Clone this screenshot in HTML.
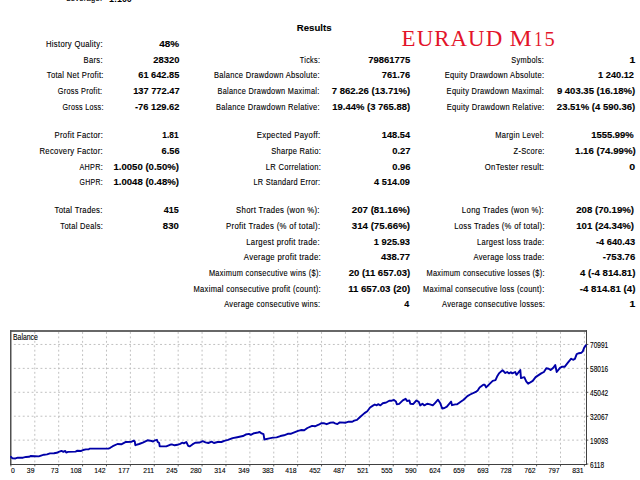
<!DOCTYPE html>
<html><head><meta charset="utf-8"><style>
html,body{margin:0;padding:0;background:#fff;width:640px;height:480px;overflow:hidden}
body{position:relative;font-family:"Liberation Sans",sans-serif}
.t{position:absolute;white-space:nowrap;line-height:12px;transform-origin:100% 50%}
.l{-webkit-text-stroke:0.12px currentColor}
.lb{letter-spacing:0.35px}
.vb{-webkit-text-stroke:0.12px currentColor}
</style></head><body>
<svg width="640" height="480" style="position:absolute;left:0;top:0"><path d="M34.80 332.00V464.40 M58.69 332.00V464.40 M82.59 332.00V464.40 M106.48 332.00V464.40 M130.38 332.00V464.40 M154.28 332.00V464.40 M178.17 332.00V464.40 M202.07 332.00V464.40 M225.96 332.00V464.40 M249.86 332.00V464.40 M273.76 332.00V464.40 M297.65 332.00V464.40 M321.55 332.00V464.40 M345.44 332.00V464.40 M369.34 332.00V464.40 M393.24 332.00V464.40 M417.13 332.00V464.40 M441.03 332.00V464.40 M464.92 332.00V464.40 M488.82 332.00V464.40 M512.72 332.00V464.40 M536.61 332.00V464.40 M560.51 332.00V464.40 M584.40 332.00V464.40" stroke="#c0c0c0" stroke-width="1" stroke-dasharray="1.9 2.53" fill="none"/><path d="M11.50 344.45H586.50 M11.50 368.37H586.50 M11.50 392.29H586.50 M11.50 416.21H586.50 M11.50 440.13H586.50" stroke="#c0c0c0" stroke-width="1" stroke-dasharray="1.9 2.53" stroke-dashoffset="-2.4" fill="none"/><path d="M10.90 464.40V466.40 M34.80 464.40V466.40 M58.69 464.40V466.40 M82.59 464.40V466.40 M106.48 464.40V466.40 M130.38 464.40V466.40 M154.28 464.40V466.40 M178.17 464.40V466.40 M202.07 464.40V466.40 M225.96 464.40V466.40 M249.86 464.40V466.40 M273.76 464.40V466.40 M297.65 464.40V466.40 M321.55 464.40V466.40 M345.44 464.40V466.40 M369.34 464.40V466.40 M393.24 464.40V466.40 M417.13 464.40V466.40 M441.03 464.40V466.40 M464.92 464.40V466.40 M488.82 464.40V466.40 M512.72 464.40V466.40 M536.61 464.40V466.40 M560.51 464.40V466.40 M584.40 464.40V466.40 M586.50 344.45H588.30 M586.50 368.37H588.30 M586.50 392.29H588.30 M586.50 416.21H588.30 M586.50 440.13H588.30 M586.50 464.05H588.30" stroke="#555" stroke-width="1" fill="none"/><path d="M10 331H587" stroke="#353535" stroke-width="1.5" fill="none"/><path d="M10.75 330.25V465" stroke="#505050" stroke-width="1.5" fill="none"/><path d="M10 464.5H587" stroke="#404040" stroke-width="1" fill="none"/><path d="M586.5 330.25V465" stroke="#404040" stroke-width="1" fill="none"/><path d="M11 456.80 L12.5 458.30 L15.5 458.45 L17.75 457.70 L23 457.70 L26 456.95 L29 456.80 L30.5 456.05 L35 456.20 L38.75 456.40 L41.75 455.30 L44 454.70 L47 454.40 L50 453.40 L54 453.30 L56.8 452.80 L58.7 451.90 L61.5 450.95 L63.4 451.90 L65.25 450.95 L66.2 452.55 L68.1 451.90 L75.6 451.60 L77.4 450.70 L81.2 450.95 L83.1 450.00 L85.9 449.40 L88.7 449.40 L89.6 448.60 L108.4 448.60 L110.25 447.80 L112.8 446.20 L117.5 444.00 L121.25 444.30 L125.9 441.95 L131.6 441.70 L133.9 440.55 L134.8 441.70 L135.3 445.20 L139.1 444.00 L142.8 442.60 L147.5 440.30 L150.3 440.70 L153.1 441.50 L155 440.30 L156.9 439.80 L157.8 442.10 L159.2 443.10 L159.7 446.40 L166.25 446.40 L170 444.80 L171.75 444.40 L174.6 445.30 L177.4 444.80 L180.2 443.90 L182.1 442.70 L183.9 443.40 L186.3 442.00 L188.2 445.80 L189.6 446.40 L192.4 444.40 L195.2 442.80 L199.9 442.50 L202.7 441.10 L205.5 442.30 L208.3 443.00 L211.6 441.70 L213.9 443.00 L217.7 442.00 L221.4 442.00 L224.25 440.80 L228 439.90 L232.6 438.10 L237.25 437.20 L242.9 436.05 L245.7 434.55 L249 433.90 L250.8 434.80 L254.1 433.20 L257.9 432.50 L259.75 432.00 L261.6 433.40 L263.5 434.20 L264.4 439.50 L268.2 438.60 L272.9 437.60 L276.6 437.40 L280.4 436.05 L284 435.30 L287.75 433.80 L290.6 433.80 L292.4 433.10 L298.1 430.80 L300.9 430.05 L304.2 430.30 L307.4 428.00 L312.1 425.90 L314.9 426.30 L318.7 424.70 L321.5 423.10 L324.3 423.30 L326.7 424.20 L329.9 422.80 L333.2 422.40 L335.1 423.30 L337.4 424.05 L339.8 422.40 L345.75 422.70 L348.6 421.70 L352.3 421.70 L354.2 420.60 L357 419.90 L359.8 417.30 L364.5 413.10 L367.3 411.20 L370.1 407.50 L372.9 405.60 L374.8 404.50 L376.7 405.40 L378.1 404.20 L380.4 405.40 L382.8 403.30 L385.1 402.80 L387 402.05 L389.3 400.70 L391.7 400.70 L394 400.00 L395.9 401.40 L396.8 404.20 L399.2 403.90 L402.8 400.30 L405.6 398.80 L407 400.95 L409.4 400.50 L410.3 403.80 L413.1 404.05 L416.4 400.50 L418.75 401.90 L420.2 405.40 L422.5 403.80 L424.4 405.40 L427.2 403.80 L430 404.40 L432.8 405.40 L435.2 402.80 L438 399.70 L440.3 403.30 L442.2 408.50 L444.5 408.00 L446.9 406.60 L448.75 404.30 L451.1 401.60 L452 405.20 L455.3 404.40 L457.2 404.20 L460 402.20 L463.6 399.80 L467.4 396.10 L470.2 394.50 L475.8 391.90 L477.7 390.50 L479.6 387.60 L483.3 384.80 L484.7 384.80 L486.1 387.40 L489.9 383.60 L492.7 380.80 L495.5 380.10 L497.4 375.90 L499.25 373.10 L502.5 370.20 L503.9 371.55 L505.3 373.00 L507.2 372.00 L509.1 373.40 L510.9 372.30 L512.3 373.40 L515.2 372.00 L516.5 374.80 L518.3 372.70 L520.3 370.10 L521 378.10 L524.3 377.10 L526.2 381.40 L528.1 383.70 L532.75 380.90 L535.6 377.10 L541.2 373.40 L543.9 372.00 L546.3 368.30 L548.7 368.70 L550.6 370.10 L553.1 368.05 L555.25 365.00 L556.7 372.00 L560 367.80 L561.8 366.80 L564.6 366.80 L567.9 362.60 L571.2 358.70 L573.1 359.80 L574.9 358.90 L576.7 354.05 L578.9 353.20 L581.5 352.70 L582.8 351.40 L584.1 347.90 L585.9 345.30" stroke="#0000a8" stroke-width="1.9" fill="none" stroke-linejoin="round" stroke-linecap="round"/></svg>
<div class="t l lb" style="right:536.80px;top:38.00px;font-size:8.6px;font-weight:400;color:#000;transform:scaleX(0.8901229067456613);">History Quality:</div>
<div class="t vb" style="right:461.20px;top:38.00px;font-size:9.5px;font-weight:700;color:#000;transform:scaleX(1.0459708513727564);">48%</div>
<div class="t l lb" style="right:536.80px;top:54.00px;font-size:8.6px;font-weight:400;color:#000;transform:scaleX(0.8819665046114398);">Bars:</div>
<div class="t vb" style="right:460.20px;top:54.00px;font-size:9.5px;font-weight:700;color:#000;transform:scaleX(0.9896074903535292);">28320</div>
<div class="t l lb" style="right:320.00px;top:54.00px;font-size:8.6px;font-weight:400;color:#000;transform:scaleX(0.8407960403335505);">Ticks:</div>
<div class="t vb" style="right:230.00px;top:54.00px;font-size:9.5px;font-weight:700;color:#000;transform:scaleX(0.9923180187247722);">79861775</div>
<div class="t l lb" style="right:95.60px;top:54.00px;font-size:8.6px;font-weight:400;color:#000;transform:scaleX(0.859800476253296);">Symbols:</div>
<div class="t vb" style="right:5.20px;top:54.00px;font-size:9.5px;font-weight:700;color:#000;transform:scaleX(1.1);">1</div>
<div class="t l lb" style="right:536.80px;top:69.00px;font-size:8.6px;font-weight:400;color:#000;transform:scaleX(0.8795226696094007);">Total Net Profit:</div>
<div class="t vb" style="right:461.20px;top:69.00px;font-size:9.5px;font-weight:700;color:#000;transform:scaleX(0.9696661610183686);">61 642.85</div>
<div class="t l lb" style="right:320.00px;top:69.00px;font-size:8.6px;font-weight:400;color:#000;transform:scaleX(0.8769428312172931);">Balance Drawdown Absolute:</div>
<div class="t vb" style="right:230.00px;top:69.00px;font-size:9.5px;font-weight:700;color:#000;transform:scaleX(0.9716234995168397);">761.76</div>
<div class="t l lb" style="right:95.60px;top:69.00px;font-size:8.6px;font-weight:400;color:#000;transform:scaleX(0.8797193877551078);">Equity Drawdown Absolute:</div>
<div class="t vb" style="right:5.80px;top:69.00px;font-size:9.5px;font-weight:700;color:#000;transform:scaleX(0.9717914203906872);">1 240.12</div>
<div class="t l lb" style="right:537.80px;top:85.00px;font-size:8.6px;font-weight:400;color:#000;transform:scaleX(0.8536118051931283);">Gross Profit:</div>
<div class="t vb" style="right:460.20px;top:85.00px;font-size:9.5px;font-weight:700;color:#000;transform:scaleX(0.9747240265618704);">137 772.47</div>
<div class="t l lb" style="right:320.00px;top:85.00px;font-size:8.6px;font-weight:400;color:#000;transform:scaleX(0.8539554043197064);">Balance Drawdown Maximal:</div>
<div class="t vb" style="right:230.00px;top:85.00px;font-size:9.5px;font-weight:700;color:#000;transform:scaleX(1.0034126808670867);">7 862.26 (13.71%)</div>
<div class="t l lb" style="right:95.60px;top:85.00px;font-size:8.6px;font-weight:400;color:#000;transform:scaleX(0.869765594778559);">Equity Drawdown Maximal:</div>
<div class="t vb" style="right:4.80px;top:85.00px;font-size:9.5px;font-weight:700;color:#000;transform:scaleX(1.0014718035596157);">9 403.35 (16.18%)</div>
<div class="t l lb" style="right:536.80px;top:101.00px;font-size:8.6px;font-weight:400;color:#000;transform:scaleX(0.8299303115506893);">Gross Loss:</div>
<div class="t vb" style="right:460.20px;top:101.00px;font-size:9.5px;font-weight:700;color:#000;transform:scaleX(0.9779767329220903);">-76 129.62</div>
<div class="t l lb" style="right:320.00px;top:101.00px;font-size:8.6px;font-weight:400;color:#000;transform:scaleX(0.8735887482933987);">Balance Drawdown Relative:</div>
<div class="t vb" style="right:230.00px;top:101.00px;font-size:9.5px;font-weight:700;color:#000;transform:scaleX(0.9963518733514138);">19.44% (3 765.88)</div>
<div class="t l lb" style="right:95.60px;top:101.00px;font-size:8.6px;font-weight:400;color:#000;transform:scaleX(0.8775319697006981);">Equity Drawdown Relative:</div>
<div class="t vb" style="right:4.80px;top:101.00px;font-size:9.5px;font-weight:700;color:#000;transform:scaleX(1.0020905689618766);">23.51% (4 590.36)</div>
<div class="t l lb" style="right:536.80px;top:129.00px;font-size:8.6px;font-weight:400;color:#000;transform:scaleX(0.8986490140948032);">Profit Factor:</div>
<div class="t vb" style="right:461.20px;top:129.00px;font-size:9.5px;font-weight:700;color:#000;transform:scaleX(0.8736297379957901);">1.81</div>
<div class="t l lb" style="right:320.00px;top:129.00px;font-size:8.6px;font-weight:400;color:#000;transform:scaleX(0.9042159795219239);">Expected Payoff:</div>
<div class="t vb" style="right:230.00px;top:129.00px;font-size:9.5px;font-weight:700;color:#000;transform:scaleX(0.9716234995168397);">148.54</div>
<div class="t l lb" style="right:95.60px;top:129.00px;font-size:8.6px;font-weight:400;color:#000;transform:scaleX(0.8718468357146647);">Margin Level:</div>
<div class="t vb" style="right:5.80px;top:129.00px;font-size:9.5px;font-weight:700;color:#000;transform:scaleX(0.9969109133512575);">1555.99%</div>
<div class="t l lb" style="right:536.80px;top:145.00px;font-size:8.6px;font-weight:400;color:#000;transform:scaleX(0.8950607316920025);">Recovery Factor:</div>
<div class="t vb" style="right:460.20px;top:145.00px;font-size:9.5px;font-weight:700;color:#000;transform:scaleX(0.9680652111303272);">6.56</div>
<div class="t l lb" style="right:319.00px;top:145.00px;font-size:8.6px;font-weight:400;color:#000;transform:scaleX(0.8750133171062421);">Sharpe Ratio:</div>
<div class="t vb" style="right:230.00px;top:145.00px;font-size:9.5px;font-weight:700;color:#000;transform:scaleX(0.9892825026255735);">0.27</div>
<div class="t l lb" style="right:95.60px;top:145.00px;font-size:8.6px;font-weight:400;color:#000;transform:scaleX(0.8715016964547053);">Z-Score:</div>
<div class="t vb" style="right:4.80px;top:145.00px;font-size:9.5px;font-weight:700;color:#000;transform:scaleX(1.0156648522354454);">1.16 (74.99%)</div>
<div class="t l lb" style="right:536.80px;top:161.00px;font-size:8.6px;font-weight:400;color:#000;transform:scaleX(0.8405559829335574);">AHPR:</div>
<div class="t vb" style="right:461.20px;top:161.00px;font-size:9.5px;font-weight:700;color:#000;transform:scaleX(1.0087511653344343);">1.0050 (0.50%)</div>
<div class="t l lb" style="right:319.00px;top:161.00px;font-size:8.6px;font-weight:400;color:#000;transform:scaleX(0.8766758979136234);">LR Correlation:</div>
<div class="t vb" style="right:230.00px;top:161.00px;font-size:9.5px;font-weight:700;color:#000;transform:scaleX(0.9831852444027539);">0.96</div>
<div class="t l lb" style="right:95.60px;top:161.00px;font-size:8.6px;font-weight:400;color:#000;transform:scaleX(0.897403046874587);">OnTester result:</div>
<div class="t vb" style="right:4.80px;top:161.00px;font-size:9.5px;font-weight:700;color:#000;transform:scaleX(1.1225185827298518);">0</div>
<div class="t l lb" style="right:536.80px;top:176.00px;font-size:8.6px;font-weight:400;color:#000;transform:scaleX(0.8082269066668822);">GHPR:</div>
<div class="t vb" style="right:461.20px;top:176.00px;font-size:9.5px;font-weight:700;color:#000;transform:scaleX(1.0087511653344343);">1.0048 (0.48%)</div>
<div class="t l lb" style="right:320.00px;top:176.00px;font-size:8.6px;font-weight:400;color:#000;transform:scaleX(0.8543874870142255);">LR Standard Error:</div>
<div class="t vb" style="right:230.00px;top:176.00px;font-size:9.5px;font-weight:700;color:#000;transform:scaleX(0.9708708664844453);">4 514.09</div>
<div class="t l lb" style="right:536.80px;top:204.00px;font-size:8.6px;font-weight:400;color:#000;transform:scaleX(0.8982422015035428);">Total Trades:</div>
<div class="t vb" style="right:461.20px;top:204.00px;font-size:9.5px;font-weight:700;color:#000;transform:scaleX(0.9454696023073735);">415</div>
<div class="t l lb" style="right:320.00px;top:204.00px;font-size:8.6px;font-weight:400;color:#000;transform:scaleX(0.9027992181323581);">Short Trades (won %):</div>
<div class="t vb" style="right:230.00px;top:204.00px;font-size:9.5px;font-weight:700;color:#000;transform:scaleX(1.0222965096626542);">207 (81.16%)</div>
<div class="t l lb" style="right:95.60px;top:204.00px;font-size:8.6px;font-weight:400;color:#000;transform:scaleX(0.9025633178726234);">Long Trades (won %):</div>
<div class="t vb" style="right:5.80px;top:204.00px;font-size:9.5px;font-weight:700;color:#000;transform:scaleX(1.0142616509794864);">208 (70.19%)</div>
<div class="t l lb" style="right:536.80px;top:220.00px;font-size:8.6px;font-weight:400;color:#000;transform:scaleX(0.8705350283713277);">Total Deals:</div>
<div class="t vb" style="right:461.20px;top:220.00px;font-size:9.5px;font-weight:700;color:#000;transform:scaleX(1.0085009091278652);">830</div>
<div class="t l lb" style="right:320.00px;top:220.00px;font-size:8.6px;font-weight:400;color:#000;transform:scaleX(0.9036790642826329);">Profit Trades (% of total):</div>
<div class="t vb" style="right:230.00px;top:220.00px;font-size:9.5px;font-weight:700;color:#000;transform:scaleX(1.022296509662654);">314 (75.66%)</div>
<div class="t l lb" style="right:95.60px;top:220.00px;font-size:8.6px;font-weight:400;color:#000;transform:scaleX(0.890383250040044);">Loss Trades (% of total):</div>
<div class="t vb" style="right:5.80px;top:220.00px;font-size:9.5px;font-weight:700;color:#000;transform:scaleX(1.0145739236552804);">101 (24.34%)</div>
<div class="t l lb" style="right:320.00px;top:236.00px;font-size:8.6px;font-weight:400;color:#000;transform:scaleX(0.8993981288946465);">Largest profit trade:</div>
<div class="t vb" style="right:230.00px;top:236.00px;font-size:9.5px;font-weight:700;color:#000;transform:scaleX(0.9776214721438631);">1 925.93</div>
<div class="t l lb" style="right:95.60px;top:236.00px;font-size:8.6px;font-weight:400;color:#000;transform:scaleX(0.870898691262799);">Largest loss trade:</div>
<div class="t vb" style="right:4.80px;top:236.00px;font-size:9.5px;font-weight:700;color:#000;transform:scaleX(0.9765914884399315);">-4 640.43</div>
<div class="t l lb" style="right:319.00px;top:251.00px;font-size:8.6px;font-weight:400;color:#000;transform:scaleX(0.9081356843641345);">Average profit trade:</div>
<div class="t vb" style="right:230.00px;top:251.00px;font-size:9.5px;font-weight:700;color:#000;transform:scaleX(0.9990365061780719);">438.77</div>
<div class="t l lb" style="right:95.60px;top:251.00px;font-size:8.6px;font-weight:400;color:#000;transform:scaleX(0.8821815270482354);">Average loss trade:</div>
<div class="t vb" style="right:4.80px;top:251.00px;font-size:9.5px;font-weight:700;color:#000;transform:scaleX(1.0045172823712976);">-753.76</div>
<div class="t l lb" style="right:319.00px;top:267.00px;font-size:8.6px;font-weight:400;color:#000;transform:scaleX(0.8625209601779286);">Maximum consecutive wins ($):</div>
<div class="t vb" style="right:230.00px;top:267.00px;font-size:9.5px;font-weight:700;color:#000;transform:scaleX(1.0059829757545193);">20 (11 657.03)</div>
<div class="t l lb" style="right:95.60px;top:267.00px;font-size:8.6px;font-weight:400;color:#000;transform:scaleX(0.8586695731237041);">Maximum consecutive losses ($):</div>
<div class="t vb" style="right:4.80px;top:267.00px;font-size:9.5px;font-weight:700;color:#000;transform:scaleX(1.0190226556559117);">4 (-4 814.81)</div>
<div class="t l lb" style="right:319.00px;top:283.00px;font-size:8.6px;font-weight:400;color:#000;transform:scaleX(0.8795290033193712);">Maximal consecutive profit (count):</div>
<div class="t vb" style="right:230.00px;top:283.00px;font-size:9.5px;font-weight:700;color:#000;transform:scaleX(1.0137878100426174);">11 657.03 (20)</div>
<div class="t l lb" style="right:95.60px;top:283.00px;font-size:8.6px;font-weight:400;color:#000;transform:scaleX(0.8643266769525562);">Maximal consecutive loss (count):</div>
<div class="t vb" style="right:4.80px;top:283.00px;font-size:9.5px;font-weight:700;color:#000;transform:scaleX(1.0229694203385538);">-4 814.81 (4)</div>
<div class="t l lb" style="right:320.00px;top:298.00px;font-size:8.6px;font-weight:400;color:#000;transform:scaleX(0.8715570572429371);">Average consecutive wins:</div>
<div class="t vb" style="right:231.00px;top:298.00px;font-size:9.5px;font-weight:700;color:#000;transform:scaleX(0.9444032290324429);">4</div>
<div class="t l lb" style="right:94.60px;top:298.00px;font-size:8.6px;font-weight:400;color:#000;transform:scaleX(0.8722389493854136);">Average consecutive losses:</div>
<div class="t vb" style="right:5.20px;top:298.00px;font-size:9.5px;font-weight:700;color:#000;transform:scaleX(1.1);">1</div>
<div class="t l lb" style="right:538.10px;top:-8.00px;font-size:8.6px;font-weight:400;color:#000;transform:scaleX(0.875);">Leverage:</div>
<div class="t" style="left:108.5px;top:-7.4px;font-size:9.5px;font-weight:700;color:#000;transform-origin:0 50%;transform:scaleX(0.94)">1:100</div>
<div class="t vb" style="right:308.50px;top:22.00px;font-size:9.6px;font-weight:700;color:#000;transform:scaleX(1.0);">Results</div>
<svg width="640" height="60" style="position:absolute;left:0;top:0"><g fill="#e3142a" font-family="Liberation Serif" >
<text x="401.6" y="45.6" font-size="22.9" textLength="100.6" lengthAdjust="spacing">EURAUD</text>
<text x="509.6" y="45.6" font-size="22.9" textLength="22.2" lengthAdjust="spacingAndGlyphs">M</text>
<text x="534.2" y="45.7" font-size="20" textLength="8.2" lengthAdjust="spacingAndGlyphs">1</text>
<text x="544.6" y="45.7" font-size="20" textLength="10.2" lengthAdjust="spacingAndGlyphs">5</text>
</g></svg>
<div class="t l" style="left:13.4px;top:331.09px;font-size:8.4px;color:#000;transform-origin:0 50%;transform:scaleX(0.82)">Balance</div>
<div class="t l" style="left:10.8px;top:464.87px;font-size:7.6px;color:#000;transform-origin:0 50%;transform:scaleX(0.9)">0</div>
<div class="t l" style="right:605.80px;top:464.87px;font-size:7.6px;color:#000;transform:scaleX(0.9)">39</div>
<div class="t l" style="right:581.91px;top:464.87px;font-size:7.6px;color:#000;transform:scaleX(0.9)">73</div>
<div class="t l" style="right:558.01px;top:464.87px;font-size:7.6px;color:#000;transform:scaleX(0.9)">108</div>
<div class="t l" style="right:534.12px;top:464.87px;font-size:7.6px;color:#000;transform:scaleX(0.9)">142</div>
<div class="t l" style="right:510.22px;top:464.87px;font-size:7.6px;color:#000;transform:scaleX(0.9)">177</div>
<div class="t l" style="right:486.32px;top:464.87px;font-size:7.6px;color:#000;transform:scaleX(0.9)">211</div>
<div class="t l" style="right:462.43px;top:464.87px;font-size:7.6px;color:#000;transform:scaleX(0.9)">245</div>
<div class="t l" style="right:438.53px;top:464.87px;font-size:7.6px;color:#000;transform:scaleX(0.9)">280</div>
<div class="t l" style="right:414.64px;top:464.87px;font-size:7.6px;color:#000;transform:scaleX(0.9)">314</div>
<div class="t l" style="right:390.74px;top:464.87px;font-size:7.6px;color:#000;transform:scaleX(0.9)">349</div>
<div class="t l" style="right:366.84px;top:464.87px;font-size:7.6px;color:#000;transform:scaleX(0.9)">383</div>
<div class="t l" style="right:342.95px;top:464.87px;font-size:7.6px;color:#000;transform:scaleX(0.9)">418</div>
<div class="t l" style="right:319.05px;top:464.87px;font-size:7.6px;color:#000;transform:scaleX(0.9)">452</div>
<div class="t l" style="right:295.16px;top:464.87px;font-size:7.6px;color:#000;transform:scaleX(0.9)">487</div>
<div class="t l" style="right:271.26px;top:464.87px;font-size:7.6px;color:#000;transform:scaleX(0.9)">521</div>
<div class="t l" style="right:247.36px;top:464.87px;font-size:7.6px;color:#000;transform:scaleX(0.9)">555</div>
<div class="t l" style="right:223.47px;top:464.87px;font-size:7.6px;color:#000;transform:scaleX(0.9)">590</div>
<div class="t l" style="right:199.57px;top:464.87px;font-size:7.6px;color:#000;transform:scaleX(0.9)">624</div>
<div class="t l" style="right:175.68px;top:464.87px;font-size:7.6px;color:#000;transform:scaleX(0.9)">659</div>
<div class="t l" style="right:151.78px;top:464.87px;font-size:7.6px;color:#000;transform:scaleX(0.9)">693</div>
<div class="t l" style="right:127.88px;top:464.87px;font-size:7.6px;color:#000;transform:scaleX(0.9)">728</div>
<div class="t l" style="right:103.99px;top:464.87px;font-size:7.6px;color:#000;transform:scaleX(0.9)">762</div>
<div class="t l" style="right:80.09px;top:464.87px;font-size:7.6px;color:#000;transform:scaleX(0.9)">797</div>
<div class="t l" style="right:56.20px;top:464.87px;font-size:7.6px;color:#000;transform:scaleX(0.9)">831</div>
<div class="t l" style="left:589.8px;top:339.61px;font-size:8.2px;color:#000;transform-origin:0 50%;transform:scaleX(0.8)">70991</div>
<div class="t l" style="left:589.8px;top:363.61px;font-size:8.2px;color:#000;transform-origin:0 50%;transform:scaleX(0.8)">58016</div>
<div class="t l" style="left:589.8px;top:387.61px;font-size:8.2px;color:#000;transform-origin:0 50%;transform:scaleX(0.8)">45042</div>
<div class="t l" style="left:589.8px;top:411.61px;font-size:8.2px;color:#000;transform-origin:0 50%;transform:scaleX(0.8)">32067</div>
<div class="t l" style="left:589.8px;top:435.61px;font-size:8.2px;color:#000;transform-origin:0 50%;transform:scaleX(0.8)">19093</div>
<div class="t l" style="left:589.8px;top:459.61px;font-size:8.2px;color:#000;transform-origin:0 50%;transform:scaleX(0.8)">6118</div>
</body></html>
